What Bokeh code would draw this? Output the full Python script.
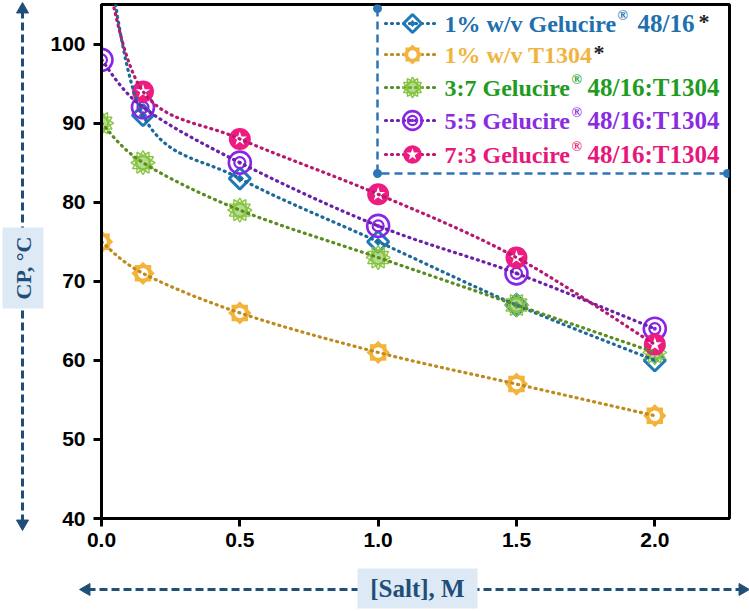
import numpy as np
from bokeh.plotting import figure
from bokeh.layouts import column, row
from bokeh.models import Range1d, Label, FixedTicker, PrintfTickFormatter
from bokeh.core.properties import value
from bokeh.embed import file_html
from bokeh.resources import INLINE

# Cloud point (CP, °C) versus salt concentration (M)
salt = [0.0, 0.15, 0.5, 1.0, 1.5, 2.0]
gelucire = [117, 91, 83, 75, 67, 60]   # value at 0 M lies above the plotted range
t1304 = [75, 71, 66, 61, 57, 53]
mix_37 = [90, 85, 79, 73, 67, 61]
mix_55 = [98, 92, 85, 77, 71, 64]
mix_73 = [112, 94, 88, 81, 73, 62]     # value at 0 M lies above the plotted range

x_ticks = [0.0, 0.5, 1.0, 1.5, 2.0]
y_ticks = [40, 50, 60, 70, 80, 90, 100]

W, H = 749, 611
STRIP_W = 45          # left strip holding the vertical axis title
STRIP_H = 48          # bottom strip holding the horizontal axis title
MAIN_W, MAIN_H = W - STRIP_W, H - STRIP_H
LEFT, RIGHT, TOP, BOTTOM = 101, 20, 4, 45   # frame position (LEFT measured on the page)
FW, FH = W - LEFT - RIGHT, MAIN_H - TOP - BOTTOM

AXIS_BLUE = "#1f4e79"
BOX_FILL = "#dde9f5"
SERIF = value("Liberation Serif")


def cx(X):
    # page pixel -> "px" range of the main frame
    return X - LEFT


def cy(Y):
    # page pixel -> "py" range of the main frame
    return (TOP + FH) - Y


def smooth(xs, ys, steps=30):
    """Catmull-Rom path through the points."""
    pts = np.column_stack([xs, ys]).astype(float)
    ext = np.vstack([pts[0], pts, pts[-1]])
    t = np.linspace(0, 1, steps, endpoint=False)[:, None]
    h00 = 2 * t**3 - 3 * t**2 + 1
    h10 = t**3 - 2 * t**2 + t
    h01 = -2 * t**3 + 3 * t**2
    h11 = t**3 - t**2
    segs = []
    for i in range(1, len(ext) - 2):
        p0, p1, p2, p3 = ext[i - 1], ext[i], ext[i + 1], ext[i + 2]
        m1, m2 = (p2 - p0) / 2, (p3 - p1) / 2
        segs.append(h00 * p1 + h10 * m1 + h01 * p2 + h11 * m2)
    segs.append(pts[-1:])
    c = np.vstack(segs)
    return c[:, 0], c[:, 1]


p = figure(width=MAIN_W, height=MAIN_H, x_range=Range1d(0, 2.27), y_range=Range1d(40, 105),
           output_backend="svg", toolbar_location=None,
           min_border_left=LEFT - STRIP_W, min_border_right=RIGHT,
           min_border_top=TOP, min_border_bottom=BOTTOM,
           background_fill_color="white", border_fill_color="white")
p.extra_x_ranges = {"px": Range1d(0, FW)}
p.extra_y_ranges = {"py": Range1d(0, FH)}

p.grid.visible = False
p.outline_line_color = "black"
p.outline_line_width = 3

for ax in (p.xaxis, p.yaxis):
    ax.axis_line_width = 3
    ax.axis_line_color = "black"
    ax.major_tick_line_width = 3
    ax.major_tick_line_color = "black"
    ax.major_tick_out = 8
    ax.major_tick_in = 0
    ax.minor_tick_out = 0
    ax.minor_tick_in = 0
    ax.major_label_text_font = "Liberation Sans"
    ax.major_label_text_font_style = "bold"
    ax.major_label_text_font_size = "21px"
    ax.major_label_text_color = "black"
p.xaxis.major_label_standoff = 6
p.yaxis.major_label_standoff = 8
p.xaxis.ticker = FixedTicker(ticks=x_ticks)
p.xaxis.formatter = PrintfTickFormatter(format="%.1f")
p.yaxis.ticker = FixedTicker(ticks=y_ticks)


# ---- marker styles (layered scatter glyphs) ----
def m_diamond(x, y, s=1.0, **rk):
    c = "#1f78b8"
    p.scatter(x, y, marker="square", angle=np.pi / 4, size=15 * s, fill_color=None,
              line_color=c, line_width=3, **rk)
    p.scatter(x, y, marker="square", angle=np.pi / 4, size=6 * s, fill_color=c,
              line_color=None, **rk)


def m_sun(x, y, s=1.0, **rk):
    c = "#f4b33a"
    for a in (0, np.pi / 4):
        p.scatter(x, y, marker="square", angle=a, size=16.5 * s, fill_color=c,
                  line_color=None, **rk)
    p.scatter(x, y, marker="circle", size=12.5 * s, fill_color="white", line_color=c,
              line_width=2, **rk)


def m_burst(x, y, s=1.0, **rk):
    c = "#86c440"
    for a in (0, np.pi / 6, np.pi / 3, np.pi / 2):
        p.scatter(x, y, marker="triangle", angle=a, size=21 * s, fill_color=c, fill_alpha=0.2,
                  line_color=c, line_width=1.3, **rk)


def m_target(x, y, s=1.0, **rk):
    c = "#8b25e6"
    p.scatter(x, y, marker="circle", size=22 * s, fill_color=None, line_color=c,
              line_width=2.6, **rk)
    p.scatter(x, y, marker="circle", size=11 * s, fill_color=None, line_color=c,
              line_width=2.2, **rk)
    p.scatter(x, y, marker="circle", size=4 * s, fill_color=c, line_color=None, **rk)


def m_starball(x, y, s=1.0, **rk):
    c = "#ee1c80"
    p.scatter(x, y, marker="circle", size=22 * s, fill_color=c, line_color=None, **rk)
    p.scatter(x, y, marker="star", size=15 * s, fill_color="white", line_color=None, **rk)


# (values, marker, line colour, text colour, label head, ®?, label tail, asterisk?)
series = [
    (gelucire, m_diamond, "#1b6a9a", "#2070b0", "1% w/v Gelucire", True, "48/16", True),
    (t1304, m_sun, "#bf8a1c", "#f0b440", "1% w/v T1304", False, "", True),
    (mix_37, m_burst, "#5a8c1e", "#1f9c1f", "3:7 Gelucire", True, "48/16:T1304", False),
    (mix_55, m_target, "#6c1fa8", "#8a2be2", "5:5 Gelucire", True, "48/16:T1304", False),
    (mix_73, m_starball, "#b8186e", "#e8177b", "7:3 Gelucire", True, "48/16:T1304", False),
]

DOT = dict(line_width=3.2, line_dash="1 5", line_cap="round")

for vals, mk, lc, *_ in series:
    mk(salt, vals)
for vals, mk, lc, *_ in series:
    sx, sy = smooth(salt, vals)
    p.line(sx, sy, line_color=lc, **DOT)

# ---- legend ----
LEG = dict(x_range_name="px", y_range_name="py")
LB_COL = "#2e75b6"
p.line([cx(377), cx(377), cx(727)], [cy(8), cy(173), cy(173)], line_color=LB_COL,
       line_width=2.5, line_dash="8 5", **LEG)
p.scatter([cx(377), cx(377), cx(727)], [cy(8), cy(173), cy(173)], marker="circle",
          size=9, fill_color=LB_COL, line_color=None, **LEG)

rows = [23, 54, 87, 120, 154]
TXT = dict(text_font="Liberation Serif", text_font_style="bold", text_baseline="middle",
           text_align="left", **LEG)
# x positions (page px) of the label pieces: head, ®, tail, asterisk
pieces = [(444, 617, 637, 698), (444, None, None, 593), (444, 571, 587, None),
          (444, 571, 587, None), (444, 571, 587, None)]
for (vals, mk, lc, tc, head, reg, tail, star), Y, (xh, xr, xt, xs_) in zip(series, rows, pieces):
    p.line([cx(385), cx(438)], [cy(Y), cy(Y)], line_color=lc, **DOT, **LEG)
    mk([cx(412)], [cy(Y)], s=0.85, **LEG)
    p.add_layout(Label(x=cx(xh), y=cy(Y), text=head, text_color=tc,
                       text_font_size="24px", **TXT))
    if reg:
        p.add_layout(Label(x=cx(xr), y=cy(Y - 8), text="®", text_color=tc,
                           text_font_size="14px", **TXT))
        p.add_layout(Label(x=cx(xt), y=cy(Y), text=tail, text_color=tc,
                           text_font_size="25px", **TXT))
    if star:
        p.add_layout(Label(x=cx(xs_), y=cy(Y - 2), text="*", text_color="#222222",
                           text_font_size="22px", **TXT))


# ---- axis title strips: dashed double arrows with boxed titles ----
def strip(w, h):
    f = figure(width=w, height=h, x_range=Range1d(0, w), y_range=Range1d(0, h),
               output_backend="svg", toolbar_location=None,
               x_axis_location=None, y_axis_location=None,
               min_border=0, background_fill_color="white", border_fill_color="white")
    f.grid.visible = False
    f.outline_line_color = None
    return f


ARW = dict(line_color=AXIS_BLUE, line_width=3, line_dash="8 4")
HEAD = dict(marker="triangle", size=12, fill_color=AXIS_BLUE, line_color=AXIS_BLUE)

# vertical strip, full page height: page x == strip x, strip y = H - page y
ys = strip(STRIP_W, H)
ys.line([22, 22], [H - 522, H - 10], **ARW)
ys.scatter([22], [H - 9], angle=0, **HEAD)
ys.scatter([22], [H - 523], angle=np.pi, **HEAD)
ys.rect([22.5], [H - 267.5], width=41, height=81, fill_color=BOX_FILL, line_color=None)
ys.text([22.5], [H - 267.5], text=["CP, °C"], angle=np.pi / 2, text_font=SERIF,
        text_font_style="bold", text_font_size="22px", text_color=AXIS_BLUE,
        text_align="center", text_baseline="middle")

# horizontal strip under the plot: strip x = page x - STRIP_W, strip y = H - page y
xs = strip(W - STRIP_W, STRIP_H)
xs.line([87 - STRIP_W, 741 - STRIP_W], [H - 589, H - 589], **ARW)
xs.scatter([86 - STRIP_W], [H - 589], angle=np.pi / 2, **HEAD)
xs.scatter([742 - STRIP_W], [H - 589], angle=-np.pi / 2, **HEAD)
xs.rect([417 - STRIP_W], [H - 588], width=120, height=40, fill_color=BOX_FILL, line_color=None)
xs.text([417 - STRIP_W], [H - 588], text=["[Salt], M"], text_font=SERIF,
        text_font_style="bold", text_font_size="25px", text_color=AXIS_BLUE,
        text_align="center", text_baseline="middle")

# nest the strips so their frames are not aligned with the main plot frame
layout = row(column(ys, spacing=0), column(p, row(xs, spacing=0), spacing=0), spacing=0)
open("out.html", "w").write(file_html(layout, INLINE))
